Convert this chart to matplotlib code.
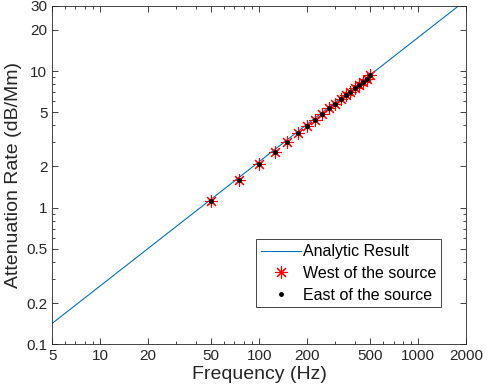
import matplotlib
matplotlib.use("Agg")
import matplotlib.pyplot as plt
from matplotlib.ticker import FixedLocator, NullFormatter, LogLocator

plt.rcParams['font.family'] = ['Liberation Sans', 'DejaVu Sans']

# analytic line (straight on log-log), endpoints
line_freq = [5, 2000]
line_rate = [0.142, 33.1]

# measured points
freq = [50, 75, 100, 125, 150, 175, 200, 225, 250, 275,
        300, 325, 350, 375, 400, 425, 450, 475, 500]
west = [1.12, 1.58, 2.08, 2.55, 3.03, 3.50, 3.96, 4.41, 4.87, 5.32,
        5.76, 6.20, 6.64, 7.08, 7.52, 7.95, 8.38, 8.81, 9.30]
east = west[:]

xticks = [5, 10, 20, 50, 100, 200, 500, 1000, 2000]
xtick_labels = ['5', '10', '20', '50', '100', '200', '500', '1000', '2000']
yticks = [0.1, 0.2, 0.5, 1, 2, 5, 10, 20, 30]
ytick_labels = ['0.1', '0.2', '0.5', '1', '2', '5', '10', '20', '30']

axcol = '#262626'

fig = plt.figure(figsize=(4.88, 3.92), dpi=100)
ax = fig.add_axes([0.107, 0.122, 0.848, 0.863])

ax.plot(line_freq, line_rate, color='#0072BD', lw=0.8, label='Analytic Result')
ax.plot(freq, west, ls='none', marker=(8, 2, 0), color='red', ms=9,
        markeredgewidth=0.8, label='West of the source')
ax.plot(freq, east, ls='none', marker='.', color='black', ms=5,
        label='East of the source')

ax.set_xscale('log')
ax.set_yscale('log')
ax.set_xlim(5, 2000)
ax.set_ylim(0.1, 30)

ax.xaxis.set_major_locator(FixedLocator(xticks))
ax.set_xticklabels(xtick_labels)
ax.yaxis.set_major_locator(FixedLocator(yticks))
ax.set_yticklabels(ytick_labels)
ax.xaxis.set_minor_locator(LogLocator(base=10, subs=range(2, 10), numticks=20))
ax.yaxis.set_minor_locator(LogLocator(base=10, subs=range(2, 10), numticks=20))
ax.xaxis.set_minor_formatter(NullFormatter())
ax.yaxis.set_minor_formatter(NullFormatter())

ax.tick_params(which='both', direction='in', top=True, right=True,
               color=axcol, labelcolor=axcol, labelsize=11, width=0.6)
ax.tick_params(which='major', length=4)
ax.tick_params(which='minor', length=2)
for s in ax.spines.values():
    s.set_color(axcol)
    s.set_linewidth(0.6)

ax.set_xlabel('Frequency (Hz)', fontsize=14, color=axcol, labelpad=2)
ax.set_ylabel('Attenuation Rate (dB/Mm)', fontsize=14, color=axcol, labelpad=3)

leg = ax.legend(loc='lower right', bbox_to_anchor=(0.94, 0.109), fontsize=11.5,
                fancybox=False, framealpha=1, edgecolor=axcol,
                handlelength=2.5, handletextpad=0.15, borderpad=0.3,
                labelspacing=0.42, borderaxespad=0)
leg.get_frame().set_linewidth(0.6)

fig.savefig('out.png', dpi=100)
